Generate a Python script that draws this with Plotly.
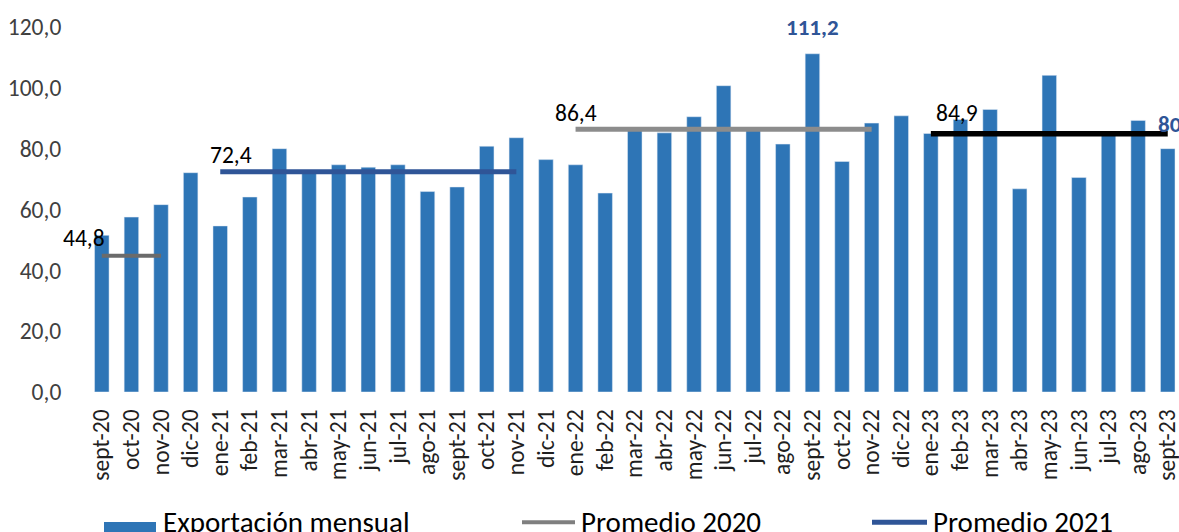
import plotly.graph_objects as go

# ---------------- data ----------------
months = [
    "sept-20", "oct-20", "nov-20", "dic-20",
    "ene-21", "feb-21", "mar-21", "abr-21", "may-21", "jun-21", "jul-21", "ago-21",
    "sept-21", "oct-21", "nov-21", "dic-21",
    "ene-22", "feb-22", "mar-22", "abr-22", "may-22", "jun-22", "jul-22", "ago-22",
    "sept-22", "oct-22", "nov-22", "dic-22",
    "ene-23", "feb-23", "mar-23", "abr-23", "may-23", "jun-23", "jul-23", "ago-23",
    "sept-23",
]
exports = [
    51.5, 57.5, 61.6, 72.1,
    54.6, 64.1, 80.0, 72.0, 74.7, 73.9, 74.7, 65.9,
    67.4, 80.8, 83.6, 76.4,
    74.7, 65.4, 86.0, 85.2, 90.5, 100.7, 86.0, 81.5,
    111.2, 75.8, 88.4, 90.8,
    85.0, 89.6, 92.9, 66.8, 104.1, 70.5, 85.3, 89.3,
    80.0,
]

avg_2020_months = months[0:3]
avg_2020 = 44.8
avg_2021_months = months[4:15]
avg_2021 = 72.4
avg_2022_months = months[16:27]
avg_2022 = 86.4
avg_2023_months = months[28:37]
avg_2023 = 84.9

yticks = [0, 20, 40, 60, 80, 100, 120]
ytick_labels = ["0,0", "20,0", "40,0", "60,0", "80,0", "100,0", "120,0"]

# ---------------- style ----------------
FONT = "Carlito, Calibri, Lato, sans-serif"
BAR_COLOR = "#2E75B6"
GRAY_2020 = "#6b6b6b"
BLUE_2021 = "#2F5597"
GRAY_2022 = "#8c8c8c"
BLACK_2023 = "#000000"

W, H = 1179, 532
ML, MR, MT, MB = 87, 0, 27, 140
PW = W - ML - MR
PH = H - MT - MB


def px_x(px):
    return (px - ML) / PW


def px_y(py):
    return (H - MB - py) / PH


fig = go.Figure()

fig.add_trace(go.Bar(
    x=months, y=exports, name="Exportación mensual",
    marker=dict(color=BAR_COLOR), width=0.49, showlegend=False,
))

for xs, val, color, wdt, name in [
    (avg_2020_months, avg_2020, GRAY_2020, 4, "Promedio 2020"),
    (avg_2021_months, avg_2021, BLUE_2021, 5, "Promedio 2021"),
    (avg_2022_months, avg_2022, GRAY_2022, 5, "Promedio 2022"),
    (avg_2023_months, avg_2023, BLACK_2023, 5.5, "Promedio 2023"),
]:
    fig.add_trace(go.Scatter(
        x=xs, y=[val] * len(xs), mode="lines", name=name,
        line=dict(color=color, width=wdt), showlegend=False,
    ))


def fmt(v):
    return f"{v:.1f}".replace(".", ",")


annotations = []
# average labels
for xcat, val, xs_, ys_ in [
    (avg_2020_months[0], avg_2020, -18, 18),
    (avg_2021_months[0], avg_2021, 11, 17),
    (avg_2022_months[0], avg_2022, 0, 16),
    (avg_2023_months[0], avg_2023, 26, 21),
]:
    annotations.append(dict(
        x=xcat, y=val, text=fmt(val), showarrow=False,
        xshift=xs_, yshift=ys_,
        font=dict(family=FONT, size=23.5, color="#000000"),
    ))

# highlighted bar labels
imax = exports.index(max(exports))
annotations.append(dict(
    x=months[imax], y=exports[imax], text=f"<b>{fmt(exports[imax])}</b>",
    showarrow=False, yshift=27,
    font=dict(family=FONT, size=23, color=BLUE_2021),
))
annotations.append(dict(
    x=months[-1], y=exports[-1], text=f"<b>{fmt(exports[-1])}</b>",
    showarrow=False, yshift=25, xshift=-12, xanchor="left",
    font=dict(family=FONT, size=23, color=BLUE_2021),
))

# custom legend (clipped at bottom, like the reference)
shapes = [
    dict(type="rect", xref="paper", yref="paper",
         x0=px_x(104), x1=px_x(156), y0=px_y(522), y1=px_y(545),
         fillcolor=BAR_COLOR, line=dict(width=0)),
    dict(type="line", xref="paper", yref="paper",
         x0=px_x(522), x1=px_x(575), y0=px_y(522.3), y1=px_y(522.3),
         line=dict(color="#7f7f7f", width=4)),
    dict(type="line", xref="paper", yref="paper",
         x0=px_x(872), x1=px_x(927), y0=px_y(522.3), y1=px_y(522.3),
         line=dict(color=BLUE_2021, width=5)),
]
for txt, xpx in [("Exportación mensual", 161), ("Promedio 2020", 579), ("Promedio 2021", 931)]:
    annotations.append(dict(
        xref="paper", yref="paper", x=px_x(xpx), y=px_y(522),
        xanchor="left", yanchor="middle", text=txt, showarrow=False,
        font=dict(family=FONT, size=29, color="#000000"),
    ))

fig.update_layout(
    width=W, height=H,
    margin=dict(l=ML, r=MR, t=MT, b=MB, autoexpand=False),
    paper_bgcolor="white", plot_bgcolor="white",
    separators=",.",
    bargap=0.51,
    showlegend=False,
    font=dict(family=FONT),
    annotations=annotations,
    shapes=shapes,
)
fig.update_xaxes(
    type="category", categoryorder="array", categoryarray=months,
    range=[-0.5, 36.38],
    tickangle=-90, showgrid=False, showline=False, zeroline=False,
    ticks="outside", ticklen=7, tickcolor="rgba(0,0,0,0)",
    tickfont=dict(family=FONT, size=23.5, color="#1f1f1f"),
)
fig.update_yaxes(
    range=[0, 120], tickvals=yticks, ticktext=ytick_labels,
    showgrid=False, showline=False, zeroline=False,
    ticks="outside", ticklen=20, tickcolor="rgba(0,0,0,0)",
    tickfont=dict(family=FONT, size=23.5, color="#404040"),
)

fig.write_html(
    "out.html",
    config={"displayModeBar": False},
    post_script="document.body.style.margin='0';document.body.style.overflow='hidden';",
)
